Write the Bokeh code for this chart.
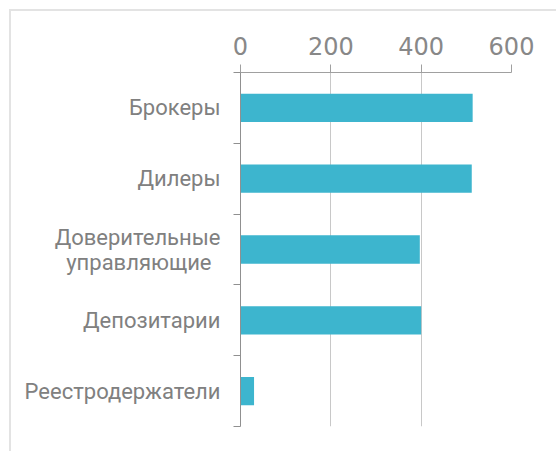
from bokeh.plotting import figure
from bokeh.models import FixedTicker, Range1d, ColumnDataSource
from bokeh.embed import file_html
from bokeh.resources import INLINE

categories = ["Брокеры", "Дилеры", "Доверительные\nуправляющие\u2009\u2009", "Депозитарии", "Реестродержатели"]
values = [514, 512, 397, 400, 30]
x_ticks = [0, 200, 400, 600]

n = len(categories)
ypos = [n - i - 0.5 for i in range(n)]

src = ColumnDataSource(dict(y=ypos, v=values))

p = figure(width=556, height=451, output_backend="svg", toolbar_location=None,
           x_range=Range1d(0, 600), y_range=Range1d(0, n),
           x_axis_location="above",
           min_border_left=240, min_border_right=45, min_border_top=72, min_border_bottom=25)
p.outline_line_color = None
p.background_fill_color = "white"
p.border_fill_color = None
p.styles = {
    "background-color": "white",
    "background-image": "linear-gradient(#e3e3e3, #e3e3e3), linear-gradient(#e3e3e3, #e3e3e3)",
    "background-size": "2px 100%, 100% 2px",
    "background-position": "9px 9px, 9px 9px",
    "background-repeat": "no-repeat",
}

p.hbar(y="y", right="v", left=0, height=0.4, source=src, color="#3db5ce", line_color=None)

text_color = "#808080"

xa = p.xaxis[0]
xa.ticker = FixedTicker(ticks=x_ticks, minor_ticks=[])
xa.axis_line_color = "#a0a0a0"
xa.major_tick_line_color = "#a0a0a0"
xa.major_tick_out = 8
xa.major_tick_in = 0
xa.minor_tick_line_color = None
xa.major_label_text_font = "DejaVu Sans"
xa.major_label_text_font_size = "24px"
xa.major_label_text_color = "#888888"
xa.major_label_standoff = 10

ya = p.yaxis[0]
ya.ticker = FixedTicker(ticks=ypos, minor_ticks=list(range(n + 1)))
ya.major_label_overrides = {yy: c for yy, c in zip(ypos, categories)}
ya.axis_line_color = "#909090"
ya.major_tick_line_color = None
ya.major_tick_out = 0
ya.minor_tick_line_color = "#909090"
ya.minor_tick_out = 7
ya.minor_tick_in = 0
ya.major_label_text_font = "Roboto"
ya.major_label_text_font_size = "22px"
ya.major_label_text_color = text_color
ya.major_label_text_line_height = 1.0
ya.major_label_standoff = 13

p.xgrid.ticker = FixedTicker(ticks=x_ticks)
p.xgrid.grid_line_color = "#c8c8c8"
p.ygrid.grid_line_color = None

open("out.html", "w").write(file_html(p, INLINE))
